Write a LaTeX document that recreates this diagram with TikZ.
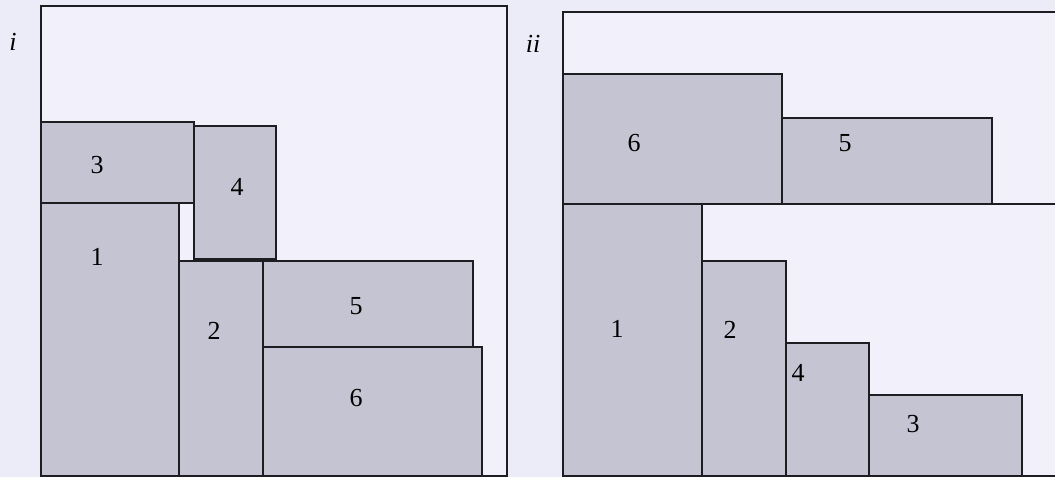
\documentclass[tikz,border=0pt]{standalone}
\usepackage{fontspec}
\setmainfont{Liberation Serif}
\definecolor{bgc}{RGB}{236,235,248}
\definecolor{inner}{RGB}{241,240,251}
\definecolor{boxc}{RGB}{197,196,211}
\definecolor{linec}{RGB}{30,30,34}
\tikzset{
  panel/.style={draw=linec, line width=1.4pt, fill=inner},
  blk/.style={draw=linec, line width=1.4pt, fill=boxc},
  lbl/.style={font=\fontsize{26}{30}\selectfont, inner sep=0pt},
  plbl/.style={font=\fontsize{26}{30}\selectfont\itshape, inner sep=0pt}
}
\begin{document}
\begin{tikzpicture}[x=1pt,y=-1pt]
\useasboundingbox[fill=bgc] (0,0) rectangle (1055,477);
% panel i
\draw[panel] (41,6) rectangle (507,476);
\draw[blk] (41,122) rectangle (194,203);
\draw[blk] (194,126) rectangle (276,259);
\draw[blk] (41,203) rectangle (179,476);
\draw[blk] (179,261) rectangle (263,476);
\draw[blk] (263,261) rectangle (473,347);
\draw[blk] (263,347) rectangle (482,476);
\node[plbl] (pi) at (13,42) {i};
\node[lbl] (a3) at (97,165) {3};
\node[lbl] (a4) at (237,187) {4};
\node[lbl] (a1) at (97,257) {1};
\node[lbl] (a2) at (214,331) {2};
\node[lbl] (a5) at (356,306) {5};
\node[lbl] (a6) at (356,398) {6};
% panel ii
\draw[panel] (1058,12) -- (563,12) -- (563,476) -- (1058,476);
\draw[blk] (563,74) rectangle (782,204);
\draw[blk] (782,118) rectangle (992,204);
\draw[line width=1.4pt, draw=linec] (702,204) -- (1058,204);
\draw[blk] (563,204) rectangle (702,476);
\draw[blk] (702,261) rectangle (786,476);
\draw[blk] (786,343) rectangle (869,476);
\draw[blk] (869,395) rectangle (1022,476);
\node[plbl] (pii) at (533,44) {ii};
\node[lbl] (b6) at (634,143) {6};
\node[lbl] (b5) at (845,143) {5};
\node[lbl] (b1) at (617,329) {1};
\node[lbl] (b2) at (730,330) {2};
\node[lbl] (b4) at (798,373) {4};
\node[lbl] (b3) at (913,424) {3};
\end{tikzpicture}
\end{document}
